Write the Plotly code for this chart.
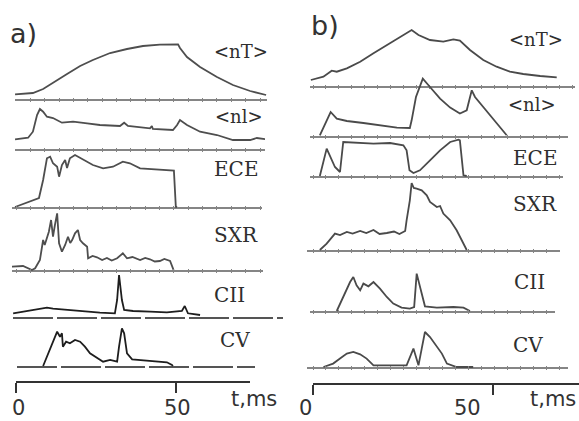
import plotly.graph_objects as go

W, H = 579, 421

# ---------------- data: time (ms) and signal (arbitrary units) ----------------
# panel a
nT_a_t = [-0.3, 5.3, 8.5, 12.2, 16.0, 20.1, 24.1, 29.5, 34.8, 39.8, 45.1, 50.8, 51.4, 53.6, 57.7, 63.0, 68.0, 73.4, 78.4]
nT_a_v = [5.7, 7, 11, 18, 26, 34, 40, 47, 51, 54, 55.3, 55.7, 52, 43, 33, 23, 15, 9, 5]

nl_a_t = [-0.3, 3.8, 5.3, 6.6, 7.5, 8.5, 9.7, 11.6, 14.4, 17.9, 22.3, 26.3, 32.6, 33.9, 35.1, 42.0, 42.6, 42.9, 49.2, 50.5, 51.4, 53.6, 57.7, 63.0, 68.0, 73.4, 75.5, 78.4]
nl_a_v = [10.7, 12.3, 18.3, 35, 41, 38.3, 33.3, 32, 27.3, 28.3, 26.7, 25, 24, 27.3, 24, 21.7, 24, 21, 20, 25, 30, 25, 18.3, 15, 10, 10, 12, 10.7]

ece_a_t = [-0.3, 4.4, 6.6, 7.2, 8.5, 9.7, 10.7, 11.6, 12.9, 13.5, 14.4, 15.4, 16.0, 16.9, 18.5, 21.0, 24.1, 27.3, 30.4, 33.5, 35.7, 38.9, 42.9, 47.3, 49.5, 50.1, 50.5]
ece_a_v = [1, 6.3, 8.7, 10, 28, 49.7, 51.3, 44.7, 41.3, 31.3, 43, 48, 40, 49.7, 53, 48.7, 43, 39.7, 41.3, 46.3, 44.7, 39.7, 38.7, 38, 37.3, 1.3, 1]

sxr_a_t = [-1.3, 2.2, 5.0, 6.0, 7.5, 8.5, 9.0, 9.7, 10.3, 11.0, 11.6, 12.2, 12.9, 13.5, 14.4, 15.4, 16.3, 17.0, 17.6, 18.5, 19.4, 20.1, 21.0, 22.3, 22.6, 24.0, 25.4, 27.0, 28.5, 30.0, 31.7, 33.5, 34.8, 36.5, 38.9, 40.5, 42.0, 43.5, 45.1, 46.5, 48.3, 49.2, 49.4]
sxr_a_v = [4.3, 5, 1, 2.7, 11, 31, 26, 34.3, 39.3, 51, 34.3, 46, 57.7, 27.7, 19.3, 26, 34.3, 28, 31, 37.7, 41, 31, 27.7, 24.3, 12.7, 15, 13.7, 11, 13, 10.5, 12.7, 17.7, 12.7, 14, 11, 13, 11.7, 9.5, 10, 12, 10, 2.7, 1]

cii_a_t = [-0.9, 3.4, 6.6, 9.7, 11.6, 16.0, 21.0, 26.3, 31.0, 31.7, 32.3, 33.2, 33.9, 36.7, 42.0, 47.3, 52.0, 52.9, 53.9, 57.7]
cii_a_v = [4.7, 7, 9, 10.3, 9.3, 8, 6.3, 5.3, 4.7, 18, 43, 18, 8, 7, 6.3, 5.7, 7, 12, 4.7, 3]

cv_a_t = [8.5, 9.7, 11.3, 12.2, 12.9, 13.8, 14.4, 14.7, 15.7, 16.9, 18.5, 20.1, 21.6, 23.2, 25.4, 27.3, 29.5, 31.7, 32.3, 33.2, 33.9, 34.8, 36.4, 38.9, 42.9, 47.3, 48.9, 49.2]
cv_a_v = [1, 10.3, 23.7, 30.3, 35.3, 30.3, 33.7, 20.3, 25.3, 23.7, 27, 25.3, 20.3, 13.7, 8.7, 5.3, 7, 5.3, 20.3, 38.7, 33.7, 13.7, 7.7, 7, 6.3, 4.7, 2, 1]

# panel b
nT_b_t = [-0.6, 2.9, 5.2, 6.6, 9.4, 13.1, 16.8, 20.5, 24.2, 27.4, 29.3, 32.5, 36.2, 39.0, 40.8, 43.6, 47.3, 51.0, 54.7, 58.4, 63.1, 67.7]
nT_b_v = [7, 10.3, 16.3, 15.3, 18.7, 25.3, 33.7, 42, 50.3, 57, 52, 47, 45.3, 47.7, 46.3, 37, 27, 20.3, 15.3, 13, 11, 9.7]

nl_b_t = [1.9, 3.3, 4.9, 6.6, 9.4, 14.0, 18.6, 23.3, 26.9, 27.4, 28.6, 30.5, 32.5, 35.3, 38.1, 40.8, 42.7, 44.1, 45.0, 47.3, 50.1, 53.8]
nl_b_v = [1.7, 13.4, 25, 18.4, 16, 14, 11.7, 9.4, 9, 16.7, 40, 58.4, 50, 38.4, 29.4, 23.4, 26.7, 46.7, 40, 30, 16.7, 1.7]

ece_b_t = [1.9, 2.9, 3.8, 6.1, 7.5, 8.4, 12.1, 16.8, 21.4, 25.1, 26.0, 26.8, 27.9, 29.7, 32.5, 35.3, 38.1, 39.9, 40.4, 40.8, 41.8, 42.7]
ece_b_v = [1, 16.7, 28.4, 10, 5, 35, 34, 33.4, 34, 31.7, 26.7, 6.7, 4, 6.7, 16.7, 26.7, 35, 36.7, 37.4, 36.7, 1.7, 1]

sxr_b_t = [1.9, 3.8, 6.1, 7.5, 9.4, 11.0, 13.1, 14.8, 16.8, 18.5, 20.5, 22.5, 24.0, 25.6, 26.0, 26.9, 27.4, 28.0, 28.8, 30.2, 31.6, 32.5, 34.4, 35.3, 36.2, 38.1, 39.9, 41.8, 42.7]
sxr_b_v = [1, 7.4, 17.4, 16, 19, 17.5, 20, 18, 21, 17, 18, 19.5, 17, 20, 30.7, 50.7, 68, 63, 62.4, 60.7, 55.7, 49, 44, 45, 37.4, 30.7, 20.7, 7.4, 1]

cii_b_t = [6.6, 8.4, 10.3, 11.2, 12.1, 13.1, 14.0, 15.4, 16.8, 18.6, 20.5, 22.3, 24.6, 26.9, 28.1, 28.8, 29.9, 31.1, 34.4, 39.0, 41.8, 43.6]
cii_b_v = [1, 15, 30, 35, 26.7, 21.7, 28.4, 25.7, 30, 23.4, 15, 8.4, 4.4, 3.4, 5, 38.4, 23.4, 5.7, 4.4, 5, 4.4, 1]

cv_b_t = [2.9, 5.6, 7.5, 9.4, 11.2, 13.1, 14.9, 16.8, 21.4, 26.0, 27.9, 29.3, 30.2, 31.1, 32.5, 34.4, 35.8, 37.2, 39.9, 44.5]
cv_b_v = [1, 4.4, 9.4, 14.4, 16, 13.7, 9.4, 2.7, 2.7, 2.7, 19.4, 2.7, 19.4, 36, 31, 21, 14.4, 4.4, 1, 1]

x_tick_vals = [0, 50]
x_tick_text = ["0", "50"]
x_title = "t,ms"
panel_labels = ["a)", "b)"]

# ---------------- layout geometry (pixels) ----------------
PANELS = {"a": dict(org=16.0, ppm=3.19, ax0=16, ax1=250, axy=381, lbl_shift=[2, 2], dtick=4.5),
          "b": dict(org=313.0, ppm=3.6, ax0=313, ax1=579, axy=383, lbl_shift=[-8, -26], dtick=3.6)}

GRAY_A = "#4e4e4e"
BLACK_A = "#1e1e1e"
GRAY_B = "#4a4a4a"
LINE_C = "#858585"

rows = [
    dict(p="a", lab="<nT>", fs=18, t=nT_a_t, v=nT_a_v, line=100, top=40, x0=15, x1=267, lx=212, ly=52, c=GRAY_A, base="solid"),
    dict(p="a", lab="<nl>", fs=18, t=nl_a_t, v=nl_a_v, line=150, top=105, x0=15, x1=265, lx=213, ly=116, c=GRAY_A, base="solid"),
    dict(p="a", lab="ECE", fs=20, t=ece_a_t, v=ece_a_v, line=208, top=152, x0=12, x1=262, lx=212, ly=169, c=GRAY_A, base="solid"),
    dict(p="a", lab="SXR", fs=20, t=sxr_a_t, v=sxr_a_v, line=271, top=211, x0=12, x1=263, lx=212, ly=235, c=GRAY_A, base="solid"),
    dict(p="a", lab="CII", fs=20, t=cii_a_t, v=cii_a_v, line=318, top=272, x0=13, x1=283, lx=212, ly=295, c=BLACK_A, base="dash"),
    dict(p="a", lab="CV", fs=20, t=cv_a_t, v=cv_a_v, line=367, top=325, x0=17, x1=255, lx=218, ly=340, c=BLACK_A, base="dash"),
    dict(p="b", lab="<nT>", fs=18, t=nT_b_t, v=nT_b_v, line=87, top=27, x0=310, x1=575, lx=507, ly=40, c=GRAY_B, base="solid"),
    dict(p="b", lab="<nl>", fs=18, t=nl_b_t, v=nl_b_v, line=137, top=77, x0=310, x1=568, lx=506, ly=105, c=GRAY_B, base="solid"),
    dict(p="b", lab="ECE", fs=20, t=ece_b_t, v=ece_b_v, line=177, top=137, x0=310, x1=563, lx=511, ly=158, c=GRAY_B, base="solid"),
    dict(p="b", lab="SXR", fs=20, t=sxr_b_t, v=sxr_b_v, line=251, top=179, x0=307, x1=560, lx=511, ly=204, c=GRAY_B, base="solid"),
    dict(p="b", lab="CII", fs=20, t=cii_b_t, v=cii_b_v, line=312, top=270, x0=310, x1=555, lx=512, ly=282, c=GRAY_B, base="solid"),
    dict(p="b", lab="CV", fs=20, t=cv_b_t, v=cv_b_v, line=368, top=328, x0=307, x1=568, lx=511, ly=345, c=GRAY_B, base="solid"),
]

PAD = 2
fig = go.Figure()
layout = {}
annotations = []
shapes = []

SANS_FONT = dict(family="DejaVu Sans", size=21, color="#333333")


def aid(i):
    return "" if i == 1 else str(i)


for i, r in enumerate(rows, start=1):
    P = PANELS[r["p"]]
    s = aid(i)
    xr = [(r["x0"] - P["org"]) / P["ppm"], (r["x1"] - P["org"]) / P["ppm"]]
    hh = r["line"] - r["top"]
    solid = r["base"] == "solid"
    fig.add_trace(go.Scatter(x=r["t"], y=r["v"], mode="lines",
                             line=dict(color=r["c"], width=1.8),
                             xaxis="x" + s, yaxis="y" + s,
                             showlegend=False, hoverinfo="skip"))
    layout["xaxis" + s] = dict(domain=[r["x0"] / W, r["x1"] / W], range=xr, anchor="y" + s,
                               showgrid=False, zeroline=False, showline=False,
                               showticklabels=False, ticks="inside" if solid else "",
                               ticklen=4, tickwidth=1, tickcolor=LINE_C,
                               tick0=0, dtick=P["dtick"], fixedrange=True)
    layout["yaxis" + s] = dict(domain=[1 - (r["line"] + PAD) / H, 1 - r["top"] / H],
                               range=[-PAD, hh], anchor="x" + s,
                               showgrid=False, showticklabels=False, showline=False, ticks="",
                               zeroline=solid, zerolinecolor=LINE_C, zerolinewidth=1.5,
                               fixedrange=True)
    if not solid:
        shapes.append(dict(type="line", xref="x" + s + " domain", x0=0, x1=1,
                           yref="y" + s, y0=0, y1=0,
                           line=dict(color=BLACK_A, width=1.4, dash="40px,4px")))
    annotations.append(dict(text=r["lab"], x=r["lx"] / W, y=1 - r["ly"] / H,
                            xref="paper", yref="paper", xanchor="left", yanchor="middle",
                            showarrow=False,
                            font=dict(family="DejaVu Serif", size=r["fs"], color="#2e2e2e")))

# bottom time axes (each on an invisible thin y-axis whose bottom edge is the axis line)
for pk, idx in [("a", 13), ("b", 14)]:
    P = PANELS[pk]
    s = str(idx)
    yb = 1 - P["axy"] / H
    # empty trace so that the axis pair is registered as a subplot
    fig.add_trace(go.Scatter(x=[], y=[], xaxis="x" + s, yaxis="y" + s,
                             showlegend=False, hoverinfo="skip"))
    layout["xaxis" + s] = dict(domain=[P["ax0"] / W, P["ax1"] / W],
                               range=[0, (P["ax1"] - P["org"]) / P["ppm"]], anchor="y" + s,
                               showgrid=False, zeroline=False, showline=True,
                               linecolor="#333333", linewidth=2,
                               ticks="outside", ticklen=10, tickwidth=2, tickcolor="#333333",
                               tickvals=x_tick_vals, showticklabels=False,
                               fixedrange=True)
    layout["yaxis" + s] = dict(domain=[yb, yb + 0.02], range=[0, 1], anchor="x" + s,
                               visible=False, fixedrange=True)
    for val, txt, shift in zip(x_tick_vals, x_tick_text, P["lbl_shift"]):
        annotations.append(dict(text=txt, x=val, y=1 - 408 / H, xref="x" + s, yref="paper",
                                xanchor="center", yanchor="middle", xshift=shift,
                                showarrow=False, font=SANS_FONT))

annotations.append(dict(text=x_title, x=254 / W, y=1 - 399 / H, xref="paper", yref="paper",
                        xanchor="center", yanchor="middle", showarrow=False, font=SANS_FONT))
annotations.append(dict(text=x_title, x=578 / W, y=1 - 399 / H, xref="paper", yref="paper",
                        xanchor="right", yanchor="middle", showarrow=False, font=SANS_FONT))

annotations.append(dict(text=panel_labels[0], x=8 / W, y=1 - 33 / H, xref="paper", yref="paper",
                        xanchor="left", yanchor="middle", showarrow=False,
                        font=dict(family="DejaVu Sans", size=27, color="#333333")))
annotations.append(dict(text=panel_labels[1], x=309 / W, y=1 - 26 / H, xref="paper", yref="paper",
                        xanchor="left", yanchor="middle", showarrow=False,
                        font=dict(family="DejaVu Sans", size=27, color="#333333")))

fig.update_layout(width=W, height=H, margin=dict(l=0, r=0, t=0, b=0),
                  paper_bgcolor="white", plot_bgcolor="rgba(0,0,0,0)",
                  showlegend=False, annotations=annotations, shapes=shapes, **layout)

fig.write_html("out.html", config={"displayModeBar": False},
               post_script="document.body.style.margin='0';document.body.style.overflow='hidden';")
